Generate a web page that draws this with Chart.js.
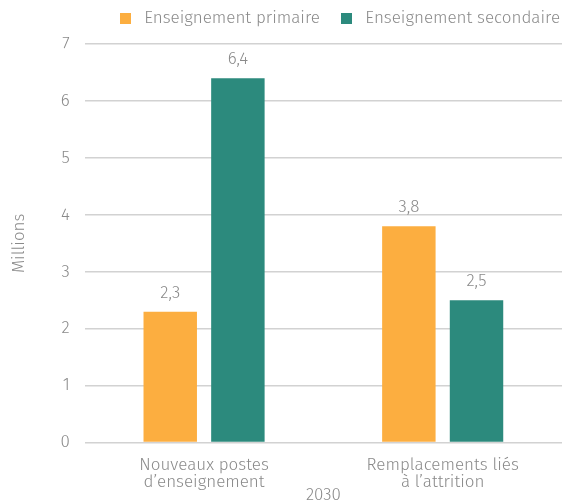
<!DOCTYPE html>
<html>
<head>
<meta charset="utf-8">
<script src="https://cdn.jsdelivr.net/npm/chart.js@4/dist/chart.umd.min.js"></script>
<style>
  html, body { margin: 0; padding: 0; background: #fff; }
  #wrap { width: 562px; height: 504px; }
</style>
</head>
<body>
<div id="wrap"><canvas id="grafico"></canvas></div>
<script>
// categories and values (millions)
var categorias = [["Nouveaux postes", "d\u2019enseignement"], ["Remplacements liés", "à l\u2019attrition"]];
var primaire = [2.3, 3.8];
var secondaire = [6.4, 2.5];
var ticks_y = [0, 1, 2, 3, 4, 5, 6, 7];

var colores = ["#fcae40", "#2c8a7d"];
var gris = "#8a8a8a";
var fuente = "'Fira Sans', 'Noto Sans', sans-serif";

// petit carré pour la légende
function cuadro(color) {
  var c = document.createElement("canvas");
  c.width = 11;
  c.height = 11;
  var g = c.getContext("2d");
  g.fillStyle = color;
  g.fillRect(0, 0, 11, 11);
  return c;
}
var cuadros = colores.map(cuadro);

// etiquettes de valeur au-dessus des barres
var etiquettes = {
  id: "etiquettes",
  afterDatasetsDraw: function (chart) {
    var ctx = chart.ctx;
    ctx.save();
    ctx.font = "300 17px " + fuente;
    ctx.fillStyle = gris;
    ctx.textAlign = "center";
    ctx.textBaseline = "bottom";
    chart.data.datasets.forEach(function (ds, i) {
      chart.getDatasetMeta(i).data.forEach(function (bar, j) {
        var txt = ds.data[j].toFixed(1).replace(".", ",");
        ctx.fillText(txt, bar.x, bar.y - 10);
      });
    });
    ctx.restore();
  }
};

var myChart = new Chart(document.getElementById("grafico").getContext("2d"), {
  type: "bar",
  data: {
    labels: categorias,
    datasets: [
      { label: "Enseignement primaire", data: primaire, backgroundColor: colores[0] },
      { label: "Enseignement secondaire", data: secondaire, backgroundColor: colores[1] }
    ]
  },
  options: {
    responsive: true,
    maintainAspectRatio: false,
    animation: false,
    categoryPercentage: 0.567,
    barPercentage: 0.79,
    layout: { padding: { top: -7, right: -15, left: 9, bottom: 0 } },
    plugins: {
      tooltip: { enabled: false },
      legend: {
        align: "end",
        labels: {
          usePointStyle: true,
          pointStyleWidth: 20,
          padding: 17,
          color: gris,
          font: { family: fuente, size: 17, weight: 300 },
          generateLabels: function (chart) {
            var items = Chart.defaults.plugins.legend.labels.generateLabels(chart);
            items.forEach(function (it, i) { it.pointStyle = cuadros[i]; });
            return items;
          }
        }
      }
    },
    scales: {
      x: {
        grid: { display: false },
        border: { display: false },
        ticks: { color: gris, font: { family: fuente, size: 17, weight: 300, lineHeight: 1.0 }, padding: 6, maxRotation: 0 },
        title: { display: true, text: "2030", color: gris, font: { family: fuente, size: 17, weight: 300 }, padding: { top: -12, bottom: -1 } }
      },
      y: {
        min: 0,
        max: 7,
        afterBuildTicks: function (axis) {
          axis.ticks = ticks_y.map(function (v) { return { value: v }; });
        },
        grid: { color: "#d2d2d2", lineWidth: 1.5, drawTicks: false },
        border: { display: false },
        ticks: { color: gris, font: { family: fuente, size: 17, weight: 300 }, padding: 15 },
        title: { display: true, text: "Millions", color: gris, font: { family: fuente, size: 17, weight: 300 }, padding: { top: 0, bottom: 16 } }
      },
      // espace entre la légende et la zone du graphique
      haut: {
        type: "category",
        position: "top",
        grid: { display: false },
        border: { display: false },
        ticks: { display: false },
        afterFit: function (axis) { axis.height = 7; }
      },
      // marge à droite de la zone du graphique
      marge: {
        position: "right",
        grid: { display: false },
        border: { display: false },
        ticks: { display: false },
        afterFit: function (axis) { axis.width = 12; }
      }
    }
  },
  plugins: [etiquettes]
});
</script>
</body>
</html>
